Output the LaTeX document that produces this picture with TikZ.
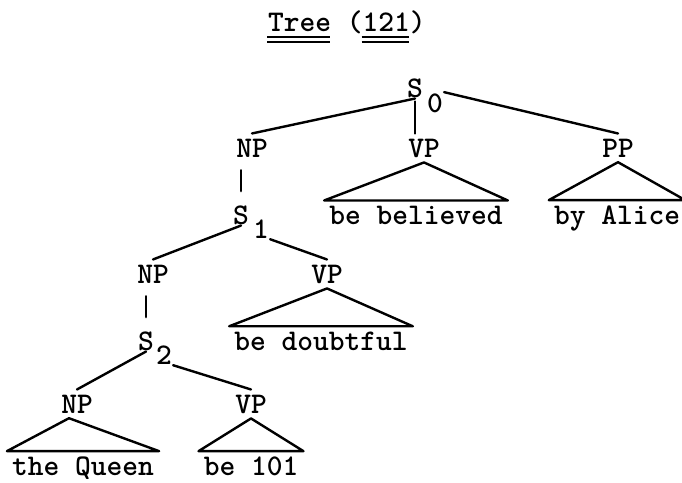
\documentclass[tikz,border=0pt]{standalone}
\usepackage{tikz}
\usetikzlibrary{positioning,calc}

\newcommand\chw{15.75}

\begin{document}
\begin{tikzpicture}[x=1pt, y=-1pt, line width=2.4pt, line cap=round, line join=round,
  every node/.style={font=\fontsize{30}{33}\selectfont\ttfamily\bfseries, inner sep=0pt},
  cat node/.style={anchor=base, inner sep=4pt},
  leaf node/.style={anchor=base, inner sep=4pt},
  s node/.style={anchor=base},
  unary/.style={shorten <=8pt, shorten >=13pt}]

\useasboundingbox (0,0) rectangle (682,482);

\node[anchor=base west] (title) at (267,31) {Tree (121)};
\foreach \dy/\lw in {6/1.6pt,11/2.2pt} {
  \draw[line width=\lw, line cap=butt] ($(title.base west)+(0,\dy)$) -- ++(4*\chw,0);
  \draw[line width=\lw, line cap=butt] ($(title.base west)+(6*\chw,\dy)$) -- ++(3*\chw,0);
}

% top level
\node[s node] (S0) at (415,97) {S};
\node[s node] (S0sub) at (435,112) {0};
\node[cat node] (NP1) at (252,157) {NP};
\node[cat node] (VP1) at (424,157) {VP};
\node[cat node] (PP1) at (618,157) {PP};
\node[leaf node] (believed) at (416,224) {be believed};
\node[leaf node] (alice) at (617,224) {by Alice};

% embedded S1
\node[s node] (S1) at (241,224) {S};
\node[s node] (S1sub) at (261,238) {1};
\node[cat node] (NP2) at (153,283) {NP};
\node[cat node] (VP2) at (327,283) {VP};
\node[leaf node] (doubtful) at (321,350) {be doubtful};

% embedded S2
\node[s node] (S2) at (146,350) {S};
\node[s node] (S2sub) at (164,364) {2};
\node[cat node] (NP3) at (77,413) {NP};
\node[cat node] (VP3) at (251,413) {VP};
\node[leaf node] (queen) at (83,475) {the Queen};
\node[leaf node] (hundred) at (251,475) {be 101};

\draw (S0.south) -- (NP1.north);
\draw[shorten <=3pt] (S0.south) -- (S0.south |- VP1.north);
\draw (S0sub.north east) -- (PP1.north);
\draw (VP1.south) -- (believed.north east) -- (believed.north west) -- cycle;
\draw (PP1.south) -- (alice.north east) -- (alice.north west) -- cycle;

\draw[unary] (NP1.south -| S1.north) -- (S1.north);
\draw (S1.south) -- (NP2.north);
\draw (S1sub.south east) -- (VP2.north);
\draw (VP2.south) -- (doubtful.north east) -- (doubtful.north west) -- cycle;

\draw[unary] (NP2.south -| S2.north) -- (S2.north);
\draw (S2.south) -- (NP3.north);
\draw (S2sub.south east) -- (VP3.north);
\draw ([xshift=-8pt]NP3.south) -- (queen.north east) -- (queen.north west) -- cycle;
\draw (VP3.south) -- (hundred.north east) -- (hundred.north west) -- cycle;
\end{tikzpicture}
\end{document}
